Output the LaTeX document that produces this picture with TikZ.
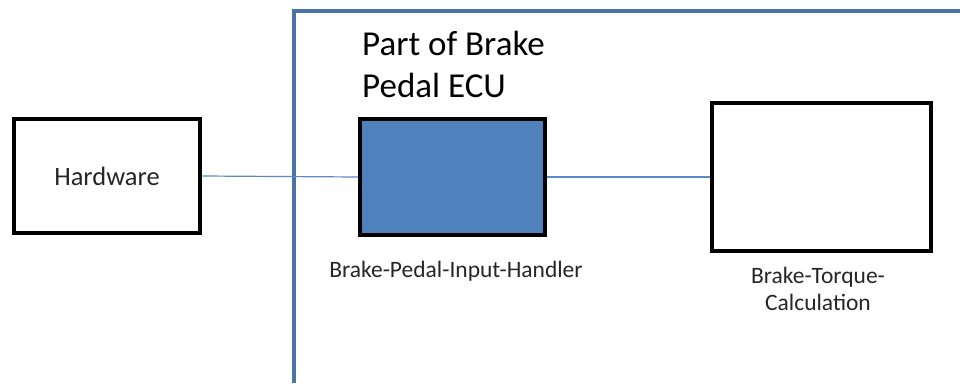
\documentclass[tikz,border=0pt]{standalone}
\usepackage{fontspec}
\setmainfont{Carlito}
\usetikzlibrary{positioning}
\definecolor{ecuframe}{HTML}{4A73A8}
\definecolor{wirecol}{HTML}{5B8BC6}
\definecolor{handlerfill}{HTML}{4F81BD}

\begin{document}
\begin{tikzpicture}[
    x=1pt, y=-1pt,
    blockbox/.style={draw=black, line width=4.5pt, minimum width=#1, inner sep=0pt},
    wire/.style={draw=wirecol, line width=1.2pt},
    caption/.style={font=\fontsize{23.5}{27}\selectfont, align=center, text=black!85, inner sep=0pt}
]
  \useasboundingbox (0,0) rectangle (960,383);

  % ECU frame, open to the right and bottom
  \draw[ecuframe, line width=3.5pt] (294,383) -- (294,11) -- (960,11);
  \node[anchor=west, align=left, inner sep=0pt, font=\fontsize{35}{42}\selectfont] (ecu-title) at (362,64) {Part of Brake\\Pedal ECU};

  % blocks
  \node[blockbox=186pt, minimum height=114pt] (hw) at (107,176) {};
  \node[font=\fontsize{26.5}{27}\selectfont, inner sep=0pt, text=black!85] (hw-label) at (hw.center) {Hardware};
  \node[blockbox=185pt, minimum height=116pt, fill=handlerfill] (pih) at (452.5,177) {};
  \node[blockbox=219pt, minimum height=148pt] (torq) at (821.5,177) {};

  % labels below the blocks
  \node[caption] (pih-label) at (456,271) {Brake-Pedal-Input-Handler};
  \node[caption] (torq-label) at (818,289) {Brake-Torque-\\Calculation};

  % connections
  \draw[wire] (hw.east) -- (pih.west);
  \draw[wire] (pih.east) -- (torq.west);
\end{tikzpicture}
\end{document}
